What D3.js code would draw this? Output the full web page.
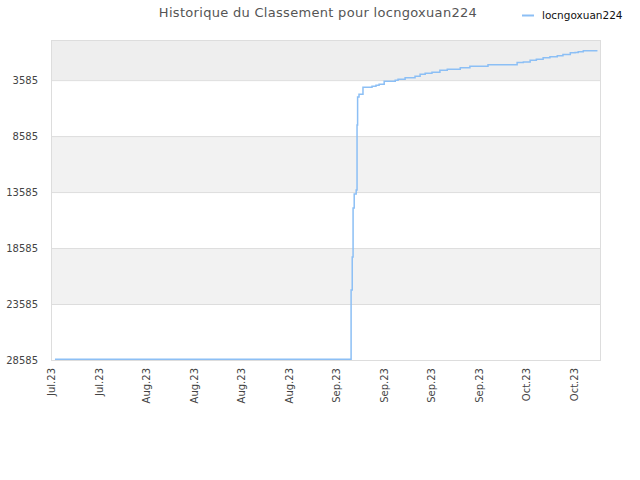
<!DOCTYPE html>
<html>
<head>
<meta charset="utf-8">
<script src="https://cdn.jsdelivr.net/npm/d3@7"></script>
<style>
  body { margin: 0; background: #fff; }
  svg { font-family: "DejaVu Sans", sans-serif; }
</style>
</head>
<body>
<svg id="chart" width="640" height="480"></svg>
<script>
// données (rang dans le classement)
const seriesName = "locngoxuan224";
const dates = [
  "2023-07-24T14:00", "2023-09-06T05:00", "2023-09-06T09:00", "2023-09-06T12:00",
  "2023-09-06T16:00", "2023-09-06T23:00", "2023-09-07T02:00", "2023-09-07T04:00",
  "2023-09-07T09:00", "2023-09-07T23:00", "2023-09-09T07:00", "2023-09-09T21:00",
  "2023-09-10T08:00", "2023-09-11T02:00", "2023-09-12T17:00", "2023-09-13T03:00",
  "2023-09-14T04:00", "2023-09-15T15:00", "2023-09-16T09:00", "2023-09-17T03:00",
  "2023-09-18T03:00", "2023-09-19T07:00", "2023-09-20T09:00", "2023-09-22T07:00",
  "2023-09-23T17:00", "2023-09-26T09:00", "2023-09-29T05:00", "2023-09-30T16:00",
  "2023-10-01T14:00", "2023-10-02T14:00", "2023-10-03T12:00", "2023-10-04T12:00",
  "2023-10-05T12:00", "2023-10-06T14:00", "2023-10-07T10:00", "2023-10-08T12:00",
  "2023-10-09T05:00", "2023-10-09T16:00", "2023-10-10T10:00", "2023-10-12T12:00"
];
const ranks = [
  28520, 22340, 19390, 15010,
  13760, 13400, 7600, 5100,
  4840, 4210, 4121, 4031,
  3942, 3674, 3585, 3496,
  3362, 3228, 3049, 2960,
  2871, 2692, 2603, 2469,
  2335, 2219, 2219, 2005,
  1960, 1799, 1710, 1594,
  1487, 1415, 1290, 1147,
  1112, 1040, 969, 969
];
const yTicks = [3585, 8585, 13585, 18585, 23585, 28585];
const xTicks = [
  "2023-07-24", "2023-07-31", "2023-08-07", "2023-08-14", "2023-08-21", "2023-08-28",
  "2023-09-04", "2023-09-11", "2023-09-18", "2023-09-25", "2023-10-02", "2023-10-09"
];
const xDomain = ["2023-07-24T00:00", "2023-10-12T21:00"];
const yDomain = [0, 28585];

const parse = s => new Date(s);
const data = dates.map((d, i) => ({ date: parse(d), rank: ranks[i] }));

const svg = d3.select("#chart");
const margin = { left: 51, right: 600, top: 40, bottom: 360 };

const x = d3.scaleTime().domain(xDomain.map(parse)).range([margin.left, margin.right]);
const y = d3.scaleLinear().domain(yDomain).range([margin.top, margin.bottom]);

// bandes de fond
const bands = [[yDomain[0], yTicks[0], "#eeeeee"]];
for (let i = 0; i < yTicks.length - 1; i++) {
  bands.push([yTicks[i], yTicks[i + 1], i % 2 === 1 ? "#f2f2f2" : "#ffffff"]);
}
svg.append("g").selectAll("rect")
  .data(bands)
  .enter().append("rect")
  .attr("x", margin.left)
  .attr("width", margin.right - margin.left)
  .attr("y", d => y(d[0]))
  .attr("height", d => y(d[1]) - y(d[0]))
  .attr("fill", d => d[2]);

// lignes de grille
svg.append("g").selectAll("line")
  .data(yTicks)
  .enter().append("line")
  .attr("x1", margin.left).attr("x2", margin.right)
  .attr("y1", d => y(d) + 0.5).attr("y2", d => y(d) + 0.5)
  .attr("stroke", "#dddddd");

// cadre
svg.append("rect")
  .attr("x", margin.left + 0.5).attr("y", margin.top + 0.5)
  .attr("width", margin.right - margin.left).attr("height", margin.bottom - margin.top)
  .attr("fill", "none")
  .attr("stroke", "#dddddd");

// axe Y
const yAxis = svg.append("g")
  .attr("transform", `translate(${margin.left},0)`)
  .call(d3.axisLeft(y).tickValues(yTicks).tickSize(0).tickPadding(13).tickFormat(d => d));
yAxis.select(".domain").remove();
yAxis.selectAll("text")
  .attr("font-size", "10px")
  .attr("font-family", "DejaVu Sans, sans-serif")
  .attr("fill", "#444");

// axe X
const xAxis = svg.append("g")
  .attr("transform", `translate(0,${margin.bottom})`)
  .call(d3.axisBottom(x).tickValues(xTicks.map(parse)).tickSize(0).tickFormat(d3.timeFormat("%b.%y")));
xAxis.select(".domain").remove();
xAxis.selectAll("text")
  .attr("font-size", "10px")
  .attr("font-family", "DejaVu Sans, sans-serif")
  .attr("fill", "#444")
  .attr("transform", "rotate(-90)")
  .attr("x", -8)
  .attr("y", 0)
  .attr("dy", "0.35em")
  .style("text-anchor", "end");

// la courbe
const line = d3.line()
  .x(d => x(d.date))
  .y(d => y(d.rank))
  .curve(d3.curveStepAfter);

svg.append("path")
  .datum(data)
  .attr("fill", "none")
  .attr("stroke", "#8cbff5")
  .attr("stroke-width", 1.5)
  .attr("d", line);

// titre
svg.append("text")
  .attr("x", 318)
  .attr("y", 17)
  .attr("text-anchor", "middle")
  .attr("font-size", "13px")
  .attr("fill", "#555")
  .attr("letter-spacing", "0.3px")
  .text("Historique du Classement pour " + seriesName);

// légende
svg.append("line")
  .attr("x1", 522).attr("x2", 534)
  .attr("y1", 15.5).attr("y2", 15.5)
  .attr("stroke", "#8cbff5")
  .attr("stroke-width", 2);
svg.append("text")
  .attr("x", 542)
  .attr("y", 19)
  .attr("font-size", "10.5px")
  .attr("fill", "#111")
  .text(seriesName);
</script>
</body>
</html>
